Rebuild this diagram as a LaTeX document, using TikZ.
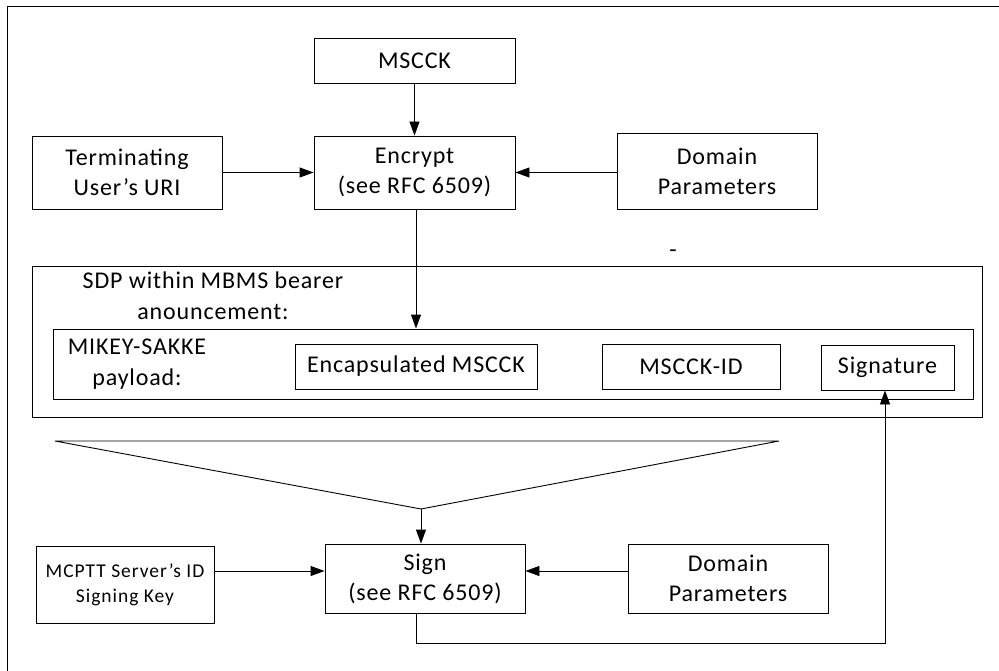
\documentclass[tikz,border=0pt]{standalone}
\usepackage{fontspec}
\setmainfont{Carlito}[LetterSpace=3.5]
\usetikzlibrary{arrows.meta}
\begin{document}
\begin{tikzpicture}[x=1pt,y=-1pt,
  box/.style={draw,line width=0.9pt,inner sep=0pt,align=center,font=\fontsize{24}{30}\selectfont},
  smallbox/.style={box,font=\fontsize{19.5}{25}\selectfont\addfontfeatures{LetterSpace=5}},
  lbl/.style={inner sep=0pt,align=center,font=\fontsize{24}{31}\selectfont},
  conn/.style={line width=0.9pt,-{Triangle[length=14pt,width=10pt]}},
  plain/.style={line width=0.9pt}]
\useasboundingbox (0,0) rectangle (999,671);
% frame (left and top edges only)
\coordinate (fbl) at (7,671);
\coordinate (ftl) at (7,6);
\coordinate (ftr) at (999,6);
\draw[plain] (fbl) -- (ftl) -- (ftr);
% top boxes
\node[box,minimum width=201pt,minimum height=45pt] (msck) at (414.5,60.5) {MSCCK};
\node[box,minimum width=201pt,minimum height=73pt] (enc) at (414.5,172.5) {Encrypt\\(see RFC 6509)};
\node[box,minimum width=190pt,minimum height=73pt] (term) at (127,172.5) {Terminating\\User’s URI};
\node[box,minimum width=200pt,minimum height=76pt] (dom1) at (717,171) {Domain\\Parameters};
% SDP container
\node[draw,line width=0.9pt,minimum width=950pt,minimum height=151pt,inner sep=0pt] (sdp) at (507,341.5) {};
\node[lbl] (sdpt) at (213,296) {SDP within MBMS bearer\\anouncement:};
\node[inner sep=0pt,font=\fontsize{24}{30}\selectfont] (dash) at (673,254) {-};
% MIKEY container
\node[draw,line width=0.9pt,minimum width=920pt,minimum height=70pt,inner sep=0pt] (mikey) at (513,364) {};
\node[lbl] (mikt) at (137,364) {MIKEY-SAKKE\\payload:};
\node[box,minimum width=242pt,minimum height=45pt] (encm) at (416,366.5) {Encapsulated MSCCK};
\node[box,minimum width=178pt,minimum height=45pt] (mid) at (691,366.5) {MSCCK-ID};
\node[box,minimum width=133pt,minimum height=45pt] (sig) at (887.5,367.5) {Signature};
% triangle (bracket)
\coordinate (tl) at (55,441);
\coordinate (tr) at (779,441);
\coordinate (tapex) at (421,509);
\draw[plain] (tapex) -- (tl) -- (tr) -- cycle;
% bottom boxes
\node[box,minimum width=200pt,minimum height=69pt] (sign) at (425,578.5) {Sign\\(see RFC 6509)};
\node[smallbox,minimum width=178pt,minimum height=77pt] (mcptt) at (125,584.5) {MCPTT Server’s ID\\Signing Key};
\node[box,minimum width=200pt,minimum height=69pt] (dom2) at (728,578.5) {Domain\\Parameters};
% connectors
\draw[conn] (msck) -- (enc);
\draw[conn] (term) -- (enc);
\draw[conn] (dom1.west |- enc.east) -- (enc.east);
\draw[conn] (enc.south -| 416,0) -- (mikey.north -| 416,0);
\draw[conn] (tapex) -- (sign.north -| tapex);
\draw[conn] (mcptt.east |- 0,571) -- (sign.west |- 0,571);
\draw[conn] (dom2.west |- 0,571) -- (sign.east |- 0,571);
\coordinate (c1) at (416,643);
\coordinate (c2) at (885,643);
\draw[conn] (sign.south -| c1) -- (c1) -- (c2) -- (sig.south -| c2);
\end{tikzpicture}
\end{document}
